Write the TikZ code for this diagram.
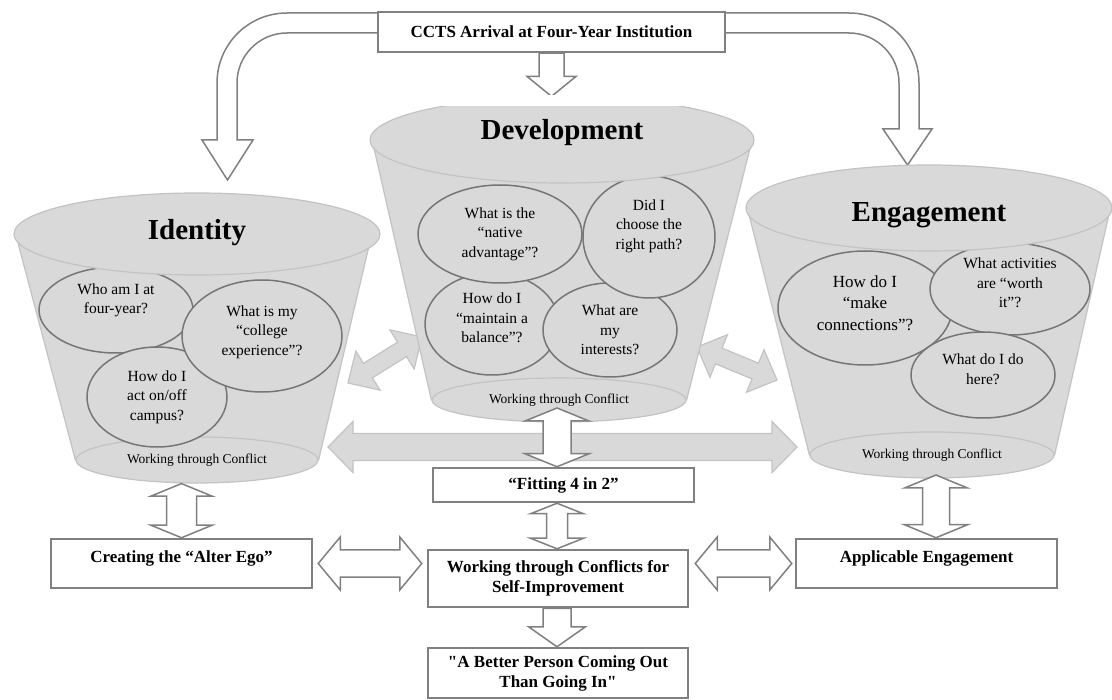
\documentclass[tikz,border=0pt]{standalone}
\usepackage{fontspec}
\setmainfont{Liberation Serif}
\usetikzlibrary{calc,shapes.geometric}
\pgfdeclarelayer{back}
\pgfdeclarelayer{front}
\pgfsetlayers{back,main,front}
\definecolor{cupgray}{RGB}{217,217,217}
\definecolor{cupedge}{RGB}{195,195,195}
\definecolor{qedge}{RGB}{118,118,118}
\definecolor{boxedge}{RGB}{128,128,128}
% block arrow with two heads: style, end, end, shaft half, head half, head length
\newcommand{\twoway}[6]{%
  \path[#1] (#2) -- ($(#2)!#6!(#3)!#5!90:(#3)$) -- ($(#2)!#6!(#3)!#4!90:(#3)$)
    -- ($(#3)!#6!(#2)!#4!-90:(#2)$) -- ($(#3)!#6!(#2)!#5!-90:(#2)$) -- (#3)
    -- ($(#3)!#6!(#2)!#5!90:(#2)$) -- ($(#3)!#6!(#2)!#4!90:(#2)$)
    -- ($(#2)!#6!(#3)!#4!-90:(#3)$) -- ($(#2)!#6!(#3)!#5!-90:(#3)$) -- cycle;}
% block arrow with one head at the second end
\newcommand{\oneway}[6]{%
  \path[#1] ($(#2)!#4!90:(#3)$) -- ($(#3)!#6!(#2)!#4!-90:(#2)$)
    -- ($(#3)!#6!(#2)!#5!-90:(#2)$) -- (#3) -- ($(#3)!#6!(#2)!#5!90:(#2)$)
    -- ($(#3)!#6!(#2)!#4!90:(#2)$) -- ($(#2)!#4!-90:(#3)$) -- cycle;}
% straight double quote, past the tex-text mapping
\newcommand{\sq}{\XeTeXglyph\XeTeXcharglyph"22\relax}

\begin{document}
\begin{tikzpicture}[x=1pt, y=-1pt,
    cup/.style={fill=cupgray, draw=cupedge, line width=1.2pt},
    rim/.style={ellipse, cup, inner sep=0pt, font=\fontsize{13.5}{16}\selectfont},
    question/.style={ellipse, fill=cupgray, draw=qedge, line width=1.5pt, inner sep=0pt,
      align=center, font=\fontsize{15.5}{19.5}\selectfont},
    cuptitle/.style={inner sep=0pt, font=\fontsize{29}{34}\selectfont\bfseries},
    stage/.style={rectangle, draw=boxedge, line width=2.5pt, fill=white, inner sep=0pt,
      align=center, font=\fontsize{17}{20}\selectfont\bfseries},
    hollow/.style={fill=white, draw=boxedge, line width=1.5pt},
    shade/.style={fill=cupgray, draw=cupedge, line width=1.2pt}]
\useasboundingbox (0,0) rectangle (1112,700);
\begin{pgfonlayer}{back}
  \fill[white] (0,0) rectangle (1112,700);
\end{pgfonlayer}

% Identity
\node[rim, minimum width=242pt, minimum height=46pt] (idbase) at (197,460) {Working through Conflict};
\node[question, minimum width=154pt, minimum height=86pt, text depth=23pt] (who) at (116,310) {Who am I at\\four-year?};
\node[question, minimum width=140pt, minimum height=100pt] (act) at (157,397) {How do I\\act on/off\\campus?};
\node[question, minimum width=160pt, minimum height=112pt, text depth=11pt] (college) at (262,336) {What is my\\“college\\experience”?};
\node[rim, minimum width=366pt, minimum height=82pt] (idtop) at (197,234) {};
\node[cuptitle, anchor=base] (idname) at ($(idtop.center)+(0,6)$) {Identity};

% Development
\node[rim, minimum width=254pt, minimum height=44pt] (devbase) at (559,400) {Working through Conflict};
\node[question, minimum width=134pt, minimum height=102pt, text depth=12pt] (balance) at (492,324) {How do I\\“maintain a\\balance”?};
\node[question, minimum width=134pt, minimum height=94pt] (interests) at (610,330) {What are\\my\\interests?};
\node[question, minimum width=164pt, minimum height=98pt] (native) at (500,234) {What is the\\“native\\advantage”?};
\node[question, minimum width=132pt, minimum height=122pt, text depth=25pt] (path) at (649,237) {Did I\\choose the\\right path?};
\node[rim, minimum width=384pt, minimum height=86pt] (devtop) at (562,140) {};
\fill[white] (442,95.5) rectangle (683,106);
\node[cuptitle, anchor=base] (devname) at (devtop.center) {Development};

% Engagement
\node[rim, minimum width=244pt, minimum height=46pt] (engbase) at (932,455) {Working through Conflict};
\node[question, minimum width=174pt, minimum height=114pt, text depth=10pt,
  font=\fontsize{17}{21.5}\selectfont] (connect) at (865,308) {How do I\\“make\\connections”?};
\node[question, minimum width=160pt, minimum height=92pt, text depth=12pt] (worth) at (1010,289) {What activities\\are “worth\\it”?};
\node[question, minimum width=144pt, minimum height=86pt, text depth=12pt] (here) at (983,375) {What do I do\\here?};
\node[rim, minimum width=366pt, minimum height=86pt] (engtop) at (929,208) {};
\node[cuptitle, anchor=base] (engname) at ($(engtop.center)+(0,14)$) {Engagement};

% boxes
\node[stage, minimum width=347pt, minimum height=40pt] (ccts) at (551.5,32) {CCTS Arrival at Four-Year Institution};
\node[stage, minimum width=261pt, minimum height=34pt] (fit) at (563.5,485) {“Fitting 4 in 2”};
\node[stage, minimum width=261pt, minimum height=49pt, text depth=14pt] (alter) at (181.5,563.5) {Creating the “Alter Ego”};
\node[stage, minimum width=260pt, minimum height=57pt] (wtc) at (558,578.5) {Working through Conflicts for\\Self-Improvement};
\node[stage, minimum width=261pt, minimum height=49pt, text depth=14pt] (appl) at (926.5,563.5) {Applicable Engagement};
\node[stage, minimum width=260pt, minimum height=50pt] (better) at (558,673) {\sq A Better Person Coming Out\\Than Going In\sq};

% arrow ends
\coordinate (devin) at (ccts.south |- devtop.north);
\coordinate (devout) at (557,408);
\coordinate (fitin) at (devout |- fit.north);
\coordinate (fitout) at (devout |- fit.south);
\coordinate (wtcin) at (devout |- wtc.north);
\coordinate (wtcout) at (devout |- wtc.south);
\coordinate (betterin) at (devout |- better.north);
\coordinate (idout) at (alter.north |- idbase.south);
\coordinate (engout) at (936,475);
\coordinate (applin) at (engout |- appl.north);
\coordinate (alterside) at ($(alter.east)+(5,0)$);
\coordinate (wtcleft) at ($(wtc.west |- alter.east)+(-5,0)$);
\coordinate (wtcright) at ($(wtc.east |- appl.west)+(6,0)$);
\coordinate (applside) at ($(appl.west)+(-3,0)$);
\coordinate (spanl) at (328,447);
\coordinate (spanr) at (797,447);
\coordinate (idtilt) at (348,383);
\coordinate (devtiltl) at (422,337);
\coordinate (devtiltr) at (697,347);
\coordinate (engtilt) at (777,380);

\begin{pgfonlayer}{back}
  \twoway{shade}{spanl}{spanr}{13.5pt}{25.5pt}{25pt}
  \twoway{shade}{idtilt}{devtiltl}{8.5pt}{23pt}{23.5pt}
  \twoway{shade}{devtiltr}{engtilt}{8.5pt}{23pt}{23.5pt}
  \path[cup] (idtop.183) -- (idbase.west) -- (idbase.east) -- (idtop.-5) -- cycle;
  \path[cup] (devtop.183) -- (devbase.west) -- (devbase.east) -- (devtop.-3) -- cycle;
  \path[cup] (engtop.183) -- (engbase.west) -- (engbase.east) -- (engtop.-3) -- cycle;
  \path[hollow] (390,13) -- (287,13) .. controls (248.3,13) and (217,44.3) .. (217,83)
    -- (217,140) -- (202,140) -- (227.5,180) -- (253,140) -- (237,140) -- (237,83)
    .. controls (237,55.4) and (259.4,33) .. (287,33) -- (390,33);
  \path[hollow] (710,13) -- (849,13) .. controls (887.7,13) and (919,44.3) .. (919,83)
    -- (919,129) -- (932,129) -- (907.5,165) -- (883,129) -- (899,129) -- (899,83)
    .. controls (899,55.4) and (876.6,33) .. (849,33) -- (710,33);
  \oneway{hollow}{ccts.south}{devin}{12.5pt}{24.5pt}{20pt}
\end{pgfonlayer}

\begin{pgfonlayer}{front}
  \twoway{hollow}{devout}{fitin}{14pt}{32pt}{13pt}
  \twoway{hollow}{fitout}{wtcin}{10.5pt}{26.5pt}{10.5pt}
  \twoway{hollow}{idout}{alter.north}{15pt}{30.5pt}{12.5pt}
  \twoway{hollow}{engout}{applin}{13.5pt}{31.5pt}{13pt}
  \twoway{hollow}{alterside}{wtcleft}{13.5pt}{26.5pt}{22pt}
  \twoway{hollow}{wtcright}{applside}{13.5pt}{26.5pt}{22pt}
  \oneway{hollow}{wtcout}{betterin}{14pt}{28.5pt}{20pt}
\end{pgfonlayer}
\end{tikzpicture}
\end{document}
